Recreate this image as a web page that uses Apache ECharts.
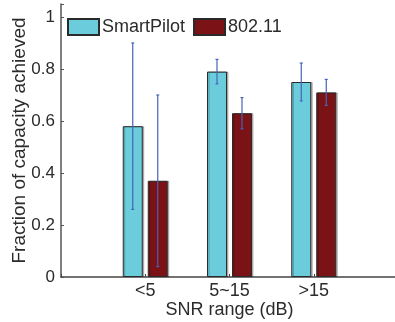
<!DOCTYPE html>
<html>
<head>
<meta charset="utf-8">
<script src="https://cdn.jsdelivr.net/npm/echarts@6/dist/echarts.min.js"></script>
<style>
html,body{margin:0;padding:0;background:#fff;}
#chart{width:395px;height:322px;}
</style>
</head>
<body>
<div id="chart"></div>
<script>
const categories = ['<5', '5~15', '>15'];
const smartPilot = [0.58, 0.79, 0.75];
const smartPilotErr = [0.32, 0.047, 0.073];
const wifi = [0.37, 0.63, 0.71];
const wifiErr = [0.33, 0.06, 0.05];
const yTicks = [0, 0.2, 0.4, 0.6, 0.8, 1];

const axisCats = [''].concat(categories, ['']);
const FONT = 'Liberation Sans, Arial, sans-serif';
const BAR_W = 20, OFFSET = 12.5;

function padData(arr) { return [null].concat(arr, [null]); }

function errSeries(vals, errs, sign) {
  const data = vals.map((v, i) => [i + 1, v, errs[i]]);
  return {
    type: 'custom',
    data: data,
    z: 10,
    silent: true,
    renderItem: function (params, api) {
      const x = api.value(0), v = api.value(1), e = api.value(2);
      const top = api.coord([x, v + e]);
      const bot = api.coord([x, v - e]);
      const cx = top[0] + sign * OFFSET;
      const cap = 1.5;
      const st = { stroke: '#4763b8', lineWidth: 1.2 };
      return {
        type: 'group',
        children: [
          { type: 'line', shape: { x1: cx, y1: top[1], x2: cx, y2: bot[1] }, style: st },
          { type: 'line', shape: { x1: cx - cap, y1: top[1], x2: cx + cap, y2: top[1] }, style: st },
          { type: 'line', shape: { x1: cx - cap, y1: bot[1], x2: cx + cap, y2: bot[1] }, style: st }
        ]
      };
    }
  };
}

const chart = echarts.init(document.getElementById('chart'), null, { renderer: 'canvas' });
chart.setOption({
  animation: false,
  backgroundColor: '#fff',
  textStyle: { fontFamily: FONT },
  grid: { left: 61, top: 4, width: 337, height: 273, containLabel: false, outerBoundsMode: 'none' },
  legend: {
    left: 62, top: 13,
    itemWidth: 31, itemHeight: 16, itemGap: 8,
    icon: 'rect',
    textStyle: { fontSize: 18, color: '#2b2b2b', fontFamily: FONT, padding: [0, 0, 0, -2] },
    data: ['SmartPilot', '802.11']
  },
  xAxis: {
    type: 'category',
    data: axisCats,
    boundaryGap: false,
    name: 'SNR range (dB)',
    nameLocation: 'middle',
    nameGap: 24,
    nameMoveOverlap: false,
    nameTextStyle: { fontSize: 18, color: '#2b2b2b', fontFamily: FONT },
    axisLine: { lineStyle: { color: '#444', width: 1.5 } },
    axisTick: { show: true, inside: true, length: 3, lineStyle: { color: '#444' } },
    axisLabel: { fontSize: 18, color: '#2b2b2b', margin: 5, fontFamily: FONT, interval: 0 },
    splitLine: { show: false }
  },
  yAxis: {
    type: 'value',
    min: 0, max: 1.05, interval: 0.2,
    name: 'Fraction of capacity achieved',
    nameLocation: 'middle',
    nameGap: 32,
    nameMoveOverlap: false,
    nameTextStyle: { fontSize: 19, color: '#2b2b2b', fontFamily: FONT },
    axisLine: { show: true, lineStyle: { color: '#555', width: 1.5 } },
    axisTick: { show: true, inside: true, length: 3, lineStyle: { color: '#555' } },
    axisLabel: {
      fontSize: 17, color: '#2b2b2b', margin: 6, fontFamily: FONT,
      formatter: function (v) {
        for (const t of yTicks) if (Math.abs(v - t) < 1e-6) return String(t);
        return '';
      }
    },
    splitLine: { show: false }
  },
  series: [
    {
      name: 'SmartPilot', type: 'bar', data: padData(smartPilot),
      barWidth: BAR_W, barGap: '25%',
      itemStyle: { color: '#6bcddb', borderColor: '#2a2a2a', borderWidth: 1,
        shadowColor: 'rgba(0,0,0,0.25)', shadowOffsetX: 1.5, shadowOffsetY: 0, shadowBlur: 0 }
    },
    {
      name: '802.11', type: 'bar', data: padData(wifi),
      barWidth: BAR_W, barGap: '25%',
      itemStyle: { color: '#7a1216', borderColor: '#2a2a2a', borderWidth: 1,
        shadowColor: 'rgba(0,0,0,0.25)', shadowOffsetX: 1.5, shadowOffsetY: 0, shadowBlur: 0 }
    },
    errSeries(smartPilot, smartPilotErr, -1),
    errSeries(wifi, wifiErr, 1)
  ]
});
</script>
</body>
</html>
